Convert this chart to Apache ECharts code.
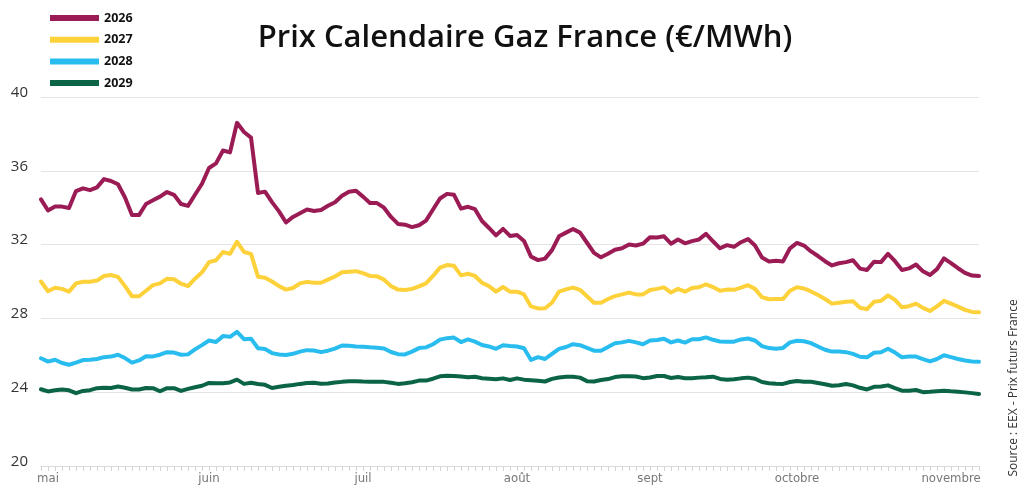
<!DOCTYPE html>
<html>
<head>
<meta charset="utf-8">
<script src="https://cdn.jsdelivr.net/npm/echarts@6/dist/echarts.min.js"></script>
<style>html,body{margin:0;padding:0;background:#fff}#c{width:1024px;height:503px}</style>
</head>
<body>
<div id="c"></div>
<script>
// Tick labels (category index -> month label)
const monthLabels = {1:'mai', 24:'juin', 46:'juil', 68:'août', 87:'sept', 108:'octobre', 130:'novembre'};
const seriesNames = ['2026', '2027', '2028', '2029'];

const cal2026 = [34.45,33.85,34.06,34.06,33.98,34.9,35.05,34.95,35.1,35.55,35.45,35.27,34.55,33.6,33.6,34.2,34.4,34.6,34.85,34.7,
34.2,34.1,34.7,35.3,36.15,36.4,37.1,37.0,38.6,38.1,37.8,34.8,34.87,34.3,33.8,33.2,33.5,33.7,33.9,33.82,
33.88,34.1,34.3,34.65,34.87,34.92,34.6,34.25,34.25,34.0,33.5,33.12,33.08,32.95,33.05,33.3,33.9,34.5,34.75,34.7,
33.95,34.05,33.92,33.28,32.9,32.5,32.85,32.47,32.52,32.2,31.35,31.16,31.24,31.7,32.45,32.65,32.85,32.65,32.1,31.55,
31.31,31.5,31.72,31.8,32.0,31.95,32.05,32.4,32.38,32.45,32.05,32.28,32.07,32.19,32.28,32.58,32.18,31.8,31.97,31.88,
32.13,32.3,31.95,31.3,31.09,31.12,31.09,31.8,32.09,31.95,31.63,31.38,31.1,30.87,30.99,31.05,31.15,30.7,30.62,31.07,
31.05,31.5,31.1,30.62,30.71,30.92,30.55,30.35,30.67,31.25,31.0,30.72,30.47,30.32,30.3];

const cal2027 = [30.0,29.47,29.66,29.6,29.45,29.9,29.99,29.99,30.05,30.3,30.35,30.25,29.75,29.2,29.2,29.5,29.8,29.9,30.15,30.12,
29.88,29.75,30.15,30.5,31.05,31.15,31.6,31.5,32.15,31.6,31.5,30.26,30.2,30.0,29.75,29.56,29.65,29.9,29.98,29.93,
29.93,30.1,30.27,30.5,30.53,30.56,30.45,30.3,30.28,30.1,29.75,29.56,29.54,29.6,29.74,29.9,30.3,30.75,30.89,30.85,
30.33,30.42,30.3,29.93,29.75,29.45,29.7,29.45,29.45,29.3,28.65,28.54,28.55,28.85,29.45,29.57,29.67,29.55,29.2,28.85,
28.85,29.05,29.21,29.3,29.4,29.3,29.3,29.54,29.6,29.68,29.4,29.6,29.45,29.65,29.69,29.85,29.7,29.5,29.56,29.55,
29.67,29.8,29.6,29.15,29.04,29.05,29.05,29.5,29.69,29.62,29.46,29.27,29.05,28.8,28.85,28.9,28.93,28.58,28.5,28.9,
28.95,29.25,29.0,28.6,28.66,28.8,28.57,28.4,28.65,28.95,28.8,28.64,28.46,28.35,28.33];

const cal2028 = [25.84,25.66,25.76,25.58,25.49,25.6,25.74,25.76,25.8,25.9,25.93,26.03,25.85,25.6,25.72,25.95,25.94,26.03,26.17,26.15,
26.03,26.05,26.32,26.55,26.8,26.72,27.04,27.0,27.27,26.87,26.9,26.38,26.34,26.12,26.04,26.02,26.08,26.2,26.28,26.26,
26.17,26.25,26.36,26.53,26.52,26.48,26.46,26.43,26.41,26.37,26.18,26.06,26.05,26.2,26.39,26.43,26.6,26.85,26.93,26.96,
26.72,26.86,26.74,26.56,26.48,26.35,26.55,26.51,26.48,26.38,25.75,25.9,25.8,26.08,26.35,26.45,26.6,26.55,26.4,26.25,
26.25,26.45,26.65,26.7,26.78,26.7,26.6,26.8,26.83,26.9,26.7,26.8,26.69,26.87,26.87,26.97,26.84,26.75,26.74,26.74,
26.86,26.91,26.8,26.5,26.39,26.35,26.4,26.7,26.79,26.76,26.66,26.48,26.3,26.2,26.2,26.17,26.08,25.92,25.89,26.14,
26.16,26.36,26.15,25.89,25.93,25.93,25.79,25.67,25.8,26.0,25.9,25.8,25.72,25.66,25.65];

const cal2029 = [24.16,24.04,24.11,24.15,24.1,23.95,24.07,24.11,24.22,24.24,24.23,24.31,24.24,24.15,24.15,24.23,24.22,24.05,24.22,24.22,
24.07,24.18,24.27,24.35,24.5,24.48,24.48,24.53,24.68,24.45,24.51,24.44,24.4,24.23,24.29,24.35,24.39,24.45,24.5,24.51,
24.46,24.47,24.52,24.56,24.59,24.6,24.58,24.57,24.57,24.56,24.51,24.45,24.48,24.54,24.63,24.63,24.73,24.86,24.89,24.88,
24.85,24.81,24.84,24.76,24.73,24.7,24.75,24.66,24.75,24.68,24.65,24.62,24.58,24.72,24.8,24.84,24.84,24.79,24.6,24.58,
24.66,24.71,24.82,24.86,24.87,24.85,24.76,24.8,24.88,24.88,24.77,24.82,24.76,24.75,24.79,24.81,24.84,24.72,24.68,24.7,
24.75,24.79,24.73,24.55,24.49,24.46,24.45,24.55,24.61,24.57,24.57,24.5,24.43,24.35,24.38,24.44,24.37,24.24,24.15,24.29,
24.31,24.37,24.22,24.08,24.08,24.12,24.0,24.02,24.05,24.08,24.05,24.03,23.99,23.95,23.9];

const colors = ['#9b1b55', '#fdd13a', '#29bdef', '#0b6446'];
const categories = cal2026.map((_, i) => String(i));
const allData = [cal2026, cal2027, cal2028, cal2029];

const chart = echarts.init(document.getElementById('c'), null, {renderer: 'canvas'});
chart.setOption({
  animation: false,
  backgroundColor: '#ffffff',
  title: {
    text: 'Prix Calendaire Gaz France (€/MWh)',
    left: 520, top: 18, textAlign: 'center',
    textStyle: {fontFamily: 'Open Sans', fontWeight: 600, fontSize: 31, color: '#111'}
  },
  legend: {
    orient: 'vertical', left: 50, top: 11, padding: 0,
    icon: 'rect', itemWidth: 49, itemHeight: 6, itemGap: 7.7,
    data: seriesNames,
    textStyle: {fontFamily: 'Open Sans', fontWeight: 'bold', fontSize: 12.5, color: '#111', lineHeight: 14}
  },
  graphic: [{
    type: 'text', x: 1014, y: 388, rotation: Math.PI / 2,
    style: {text: 'Source : EEX - Prix futurs France', fontFamily: 'Open Sans', fontSize: 12, fill: '#333', align: 'center', verticalAlign: 'middle'}
  }],
  grid: {left: 41, right: 45, top: 97, bottom: 37, containLabel: false},
  xAxis: {
    type: 'category', data: categories, boundaryGap: false,
    axisLine: {lineStyle: {color: '#dcdcdc', width: 1}},
    axisTick: {show: true, interval: 0, length: 5, lineStyle: {color: '#d6d6d6'}},
    axisLabel: {
      interval: (i) => monthLabels[i] !== undefined,
      formatter: (v, i) => monthLabels[i] || '',
      fontFamily: "'DejaVu Sans Condensed', Roboto, sans-serif", fontSize: 13, color: '#777', margin: 6
    },
    splitLine: {show: false}
  },
  yAxis: {
    type: 'value', min: 20, max: 40, interval: 4,
    axisLine: {show: false}, axisTick: {show: false},
    axisLabel: {fontFamily: 'Open Sans', fontSize: 15, color: '#333', margin: 13, verticalAlign: 'bottom', padding: [0, 0, -3, 0]},
    splitLine: {lineStyle: {color: '#e4e4e4', width: 1}}
  },
  series: allData.map((d, k) => ({
    name: seriesNames[k], type: 'line', data: d, showSymbol: false, smooth: false,
    lineStyle: {color: colors[k], width: 4, join: 'round', cap: 'round'},
    itemStyle: {color: colors[k]}
  })).reverse()
});
</script>
</body>
</html>
